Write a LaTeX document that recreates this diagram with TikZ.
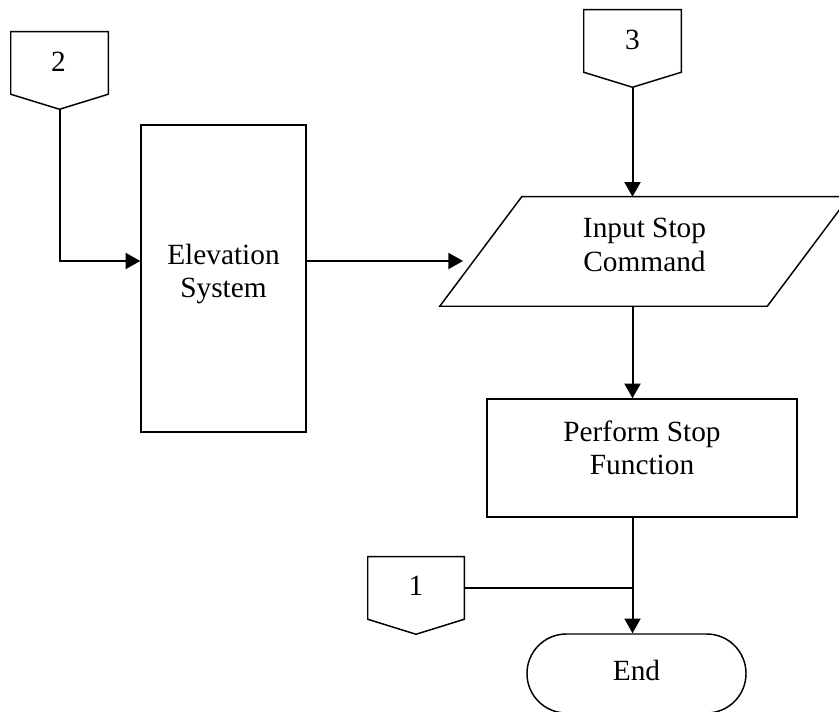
\documentclass[tikz,border=0pt]{standalone}
\usepackage{fontspec}
\setmainfont{Liberation Serif}
\usetikzlibrary{calc,arrows.meta}
\begin{document}
\begin{tikzpicture}[x=0.75pt,y=-0.75pt,
  outline/.style={draw=black,line width=1.1pt},
  hidden/.style={draw=none,inner sep=0pt,rectangle},
  txt/.style={align=center,inner sep=0pt,font=\fontsize{22}{25}\selectfont},
  flow/.style={line width=1.5pt,-{Triangle[length=11pt,width=12pt]}},
  thinline/.style={line width=0.8pt}]
  \useasboundingbox (0,0) rectangle (839,712);
  \fill[white] (0,0) rectangle (839,712);
  \clip (0,0) rectangle (839,712);

  % off-page connectors
  \node[hidden,minimum width=72.75pt,minimum height=46.5pt] (c2) at (59.5,63) {};
  \node[hidden,minimum width=72.75pt,minimum height=46.5pt] (c3) at (632.5,41) {};
  \node[hidden,minimum width=72pt,minimum height=46.5pt] (c1) at (416,588) {};
  \foreach \c in {c1,c2,c3}{
    \coordinate (\c tip) at ($(\c.south)+(0,15)$);
    \draw[outline] (\c.north west) -- (\c.north east) -- (\c.south east)
      -- (\c tip) -- (\c.south west) -- cycle;
  }
  \node[txt] (c2-t) at (58.5,62) {2};
  \node[txt] (c3-t) at (632.5,40) {3};
  \node[txt] (c1-t) at (416,586) {1};

  % process box
  \node[hidden,outline,minimum width=123.75pt,minimum height=230.25pt] (elev) at (223.5,278.5) {};
  \node[txt] (elev-t) at (223.5,274) {Elevation\\System};

  % input parallelogram
  \node[hidden,minimum width=306.75pt,minimum height=81.75pt] (para) at (644.5,251.5) {};
  \draw[outline] (para.south west) -- ($(para.north west)+(82,0)$) -- (para.north east)
    -- ($(para.south east)+(-82,0)$) -- cycle;
  \node[txt] (para-t) at (644.5,245) {Input Stop\\Command};

  % stop function box
  \node[hidden,outline,minimum width=232.5pt,minimum height=88.5pt] (perf) at (642,458) {};
  \node[txt] (perf-t) at (642,448) {Perform Stop\\Function};

  % terminator
  \node[hidden,outline,rounded corners=29.5pt,minimum width=164.25pt,minimum height=59.25pt] (endt) at (636.5,673.5) {};
  \node[txt] (endt-t) at (636.5,670) {End};

  % connectors
  \coordinate (pin) at (463,261);
  \draw[flow] (c2tip) |- (elev.west |- pin);
  \draw[flow] (elev.east |- pin) -- (pin);
  \draw[flow] (c3tip) -- (c3tip |- para.north);
  \draw[flow] (c3tip |- para.south) -- (c3tip |- perf.north);
  \draw[flow] (c3tip |- perf.south) -- (c3tip |- endt.north);
  \draw[thinline] (c1.east) -- (c3tip |- c1.east);
\end{tikzpicture}
\end{document}
